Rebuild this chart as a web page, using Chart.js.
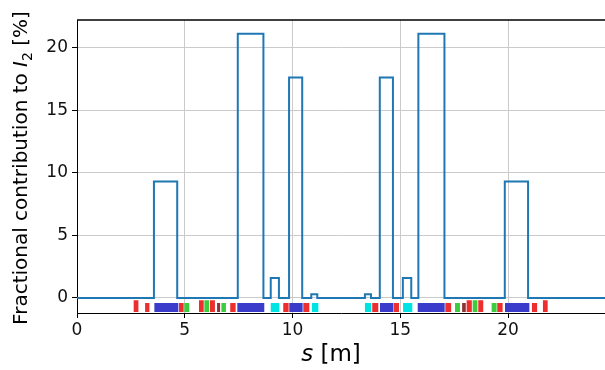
<!DOCTYPE html>
<html>
<head>
<meta charset="utf-8">
<script src="https://cdn.jsdelivr.net/npm/chart.js@4"></script>
<style>
  html, body { margin: 0; padding: 0; background: #fff; }
</style>
</head>
<body>
<canvas id="chart" width="605" height="370"></canvas>
<script>
// Fractional contribution per section: start [m], end [m], value [%]
var stepStart = [3.57, 7.46, 8.99, 9.84, 10.87, 13.36, 14.05, 15.12, 15.84, 19.85];
var stepEnd   = [4.65, 8.65, 9.37, 10.45, 11.15, 13.64, 14.66, 15.51, 17.05, 20.93];
var stepValue = [9.3, 21.1, 1.6, 17.6, 0.3, 0.3, 17.6, 1.6, 21.1, 9.3];
var latticeLength = 24.5;

// Lattice elements along s (QF/QD quads, B bends, S/ST sextupoles, C cavities, M misc)
var elemStart = [2.63, 3.16, 3.59, 4.73, 4.98, 5.66, 5.91, 6.17, 6.50, 6.70, 7.11, 7.44,
                 8.99, 9.57, 9.85, 10.50, 10.90,
                 13.36, 13.70, 14.06, 14.70, 15.13, 15.81, 17.09, 17.54, 17.87, 18.08,
                 18.36, 18.62, 19.24, 19.50, 19.86, 21.11, 21.62];
var elemEnd   = [2.85, 3.36, 4.70, 4.95, 5.21, 5.88, 6.13, 6.40, 6.64, 6.91, 7.36, 8.69,
                 9.39, 9.82, 10.47, 10.78, 11.20,
                 13.65, 13.98, 14.68, 14.94, 15.56, 17.06, 17.36, 17.77, 18.04, 18.32,
                 18.58, 18.85, 19.47, 19.75, 20.99, 21.35, 21.84];
var elemKind  = ["QF", "QD", "B", "QD", "S", "QF", "ST", "QF", "M", "S", "QD", "B",
                 "C", "QD", "B", "QD", "C",
                 "C", "QD", "B", "QD", "C", "B", "QD", "S", "M", "QF",
                 "ST", "QF", "S", "QD", "B", "QD", "QF"];

var xTicks = [0, 5, 10, 15, 20];
var yTicks = [0, 5, 10, 15, 20];

// styles for the element strip
var kindStyle = {
  QF: { color: "#ec2e2e", top: -0.18 },
  QD: { color: "#ec2e2e", top: -0.4 },
  B:  { color: "#3a3acb", top: -0.4 },
  S:  { color: "#3dcc3d", top: -0.4 },
  ST: { color: "#3dcc3d", top: -0.18 },
  C:  { color: "#00e3e3", top: -0.4 },
  M:  { color: "#8a3535", top: -0.4 }
};
var stripBottom = -1.12;

var FONT = "'DejaVu Sans', sans-serif";

// step line points built from the section arrays
var stepPoints = [{ x: 0, y: 0 }];
for (var i = 0; i < stepStart.length; i++) {
  stepPoints.push({ x: stepStart[i], y: 0 });
  stepPoints.push({ x: stepStart[i], y: stepValue[i] });
  stepPoints.push({ x: stepEnd[i], y: stepValue[i] });
  stepPoints.push({ x: stepEnd[i], y: 0 });
}
stepPoints.push({ x: latticeLength, y: 0 });

var datasets = [{
  data: stepPoints,
  borderColor: "#1f77b4",
  borderWidth: 2,
  pointRadius: 0,
  fill: false,
  tension: 0
}];

elemStart.forEach(function (s0, i) {
  var k = kindStyle[elemKind[i]];
  var s1 = elemEnd[i];
  datasets.push({
    data: [{ x: s0, y: stripBottom }, { x: s0, y: k.top }, { x: s1, y: k.top }, { x: s1, y: stripBottom }],
    backgroundColor: k.color,
    borderWidth: 0,
    pointRadius: 0,
    fill: "shape"
  });
});

// draw a title made of runs with different font styles
function drawRuns(ctx, runs, cx, cy, angle) {
  var total = 0;
  runs.forEach(function (r) {
    ctx.font = (r.italic ? "italic " : "") + r.size + "px " + FONT;
    r.w = ctx.measureText(r.text).width;
    total += r.w;
  });
  ctx.save();
  ctx.translate(cx, cy);
  ctx.rotate(angle);
  ctx.fillStyle = "#000";
  ctx.textBaseline = "middle";
  ctx.textAlign = "left";
  var x = -total / 2;
  runs.forEach(function (r) {
    ctx.font = (r.italic ? "italic " : "") + r.size + "px " + FONT;
    ctx.fillText(r.text, x, r.dy || 0);
    x += r.w;
  });
  ctx.restore();
}

var titlesPlugin = {
  id: "titles",
  afterDraw: function (chart) {
    var ctx = chart.ctx, a = chart.chartArea;
    ctx.save();
    ctx.strokeStyle = "#000";
    ctx.lineWidth = 1.3;
    ctx.beginPath();
    ctx.moveTo(a.left, a.top);
    ctx.lineTo(a.right, a.top);
    ctx.stroke();
    ctx.restore();

    drawRuns(ctx, [
      { text: "s", italic: true, size: 23 },
      { text: " [m]", size: 23 }
    ], 331, 355, 0);

    drawRuns(ctx, [
      { text: "Fractional contribution to ", size: 20 },
      { text: "I", italic: true, size: 20 },
      { text: "2", size: 14, dy: 6 },
      { text: " [%]", size: 20 }
    ], 22, 168, -Math.PI / 2);
  }
};

new Chart(document.getElementById("chart"), {
  type: "line",
  data: { datasets: datasets },
  options: {
    responsive: false,
    animation: false,
    layout: { padding: { top: 20, right: 0, left: 0, bottom: 0 } },
    plugins: { legend: { display: false }, tooltip: { enabled: false } },
    scales: {
      x: {
        type: "linear",
        min: 0,
        max: latticeLength,
        afterBuildTicks: function (scale) {
          scale.ticks = xTicks.map(function (v) { return { value: v }; });
        },
        afterFit: function (scale) { scale.height = 57; },
        grid: { color: "#cbcbcb", lineWidth: 1, tickColor: "#000", tickLength: 5 },
        border: { color: "#000", width: 1 },
        ticks: { color: "#111", font: { family: FONT, size: 17 }, padding: 2, maxRotation: 0 }
      },
      y: {
        min: -1.2,
        max: 22.2,
        afterBuildTicks: function (scale) {
          scale.ticks = yTicks.map(function (v) { return { value: v }; });
        },
        afterFit: function (scale) { scale.width = 77; },
        grid: { color: "#cbcbcb", lineWidth: 1, tickColor: "#000", tickLength: 5 },
        border: { color: "#000", width: 1 },
        ticks: { color: "#111", font: { family: FONT, size: 17 }, padding: 4 }
      }
    }
  },
  plugins: [titlesPlugin]
});
</script>
</body>
</html>
